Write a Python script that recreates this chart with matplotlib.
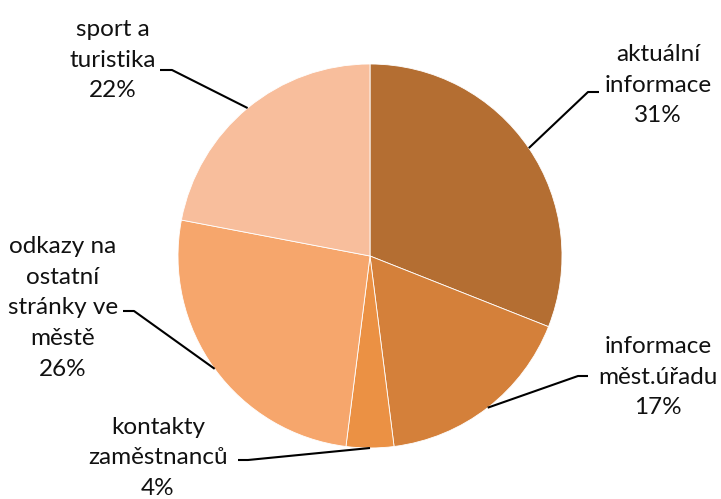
import numpy as np
import matplotlib
matplotlib.use("Agg")
import matplotlib.pyplot as plt

# slices, clockwise from 12 o'clock
labels = ["aktuální\ninformace", "informace\nměst.úřadu", "kontakty\nzaměstnanců",
          "odkazy na\nostatní\nstránky ve\nměstě", "sport a\nturistika"]
shares = [31, 17, 4, 26, 22]
colors = ["#B46E32", "#D4803A", "#EB9144", "#F6A66C", "#F8BE9C"]

# label placement (pixels, y measured from top) and the elbow of each leader line
text_pos = [(658, 85), (658, 377), (158, 458), (63, 308), (113, 60)]
elbows = [((588, 92), (599, 92)),
          ((578, 376), (588, 376)),
          ((248, 460), (238, 460)),
          ((134, 311), (123, 311)),
          ((172, 70), (160, 70))]

W, H = 721, 499
cx, cy, r = 370, 256, 192

fig = plt.figure(figsize=(W / 100, H / 100), dpi=100)
ax = fig.add_axes([0, 0, 1, 1])
ax.set_xlim(0, W)
ax.set_ylim(0, H)
ax.set_aspect("equal")
ax.axis("off")

wedges, _ = ax.pie(shares, colors=colors, startangle=90, counterclock=False,
                   center=(cx, H - cy), radius=r,
                   wedgeprops=dict(edgecolor="white", linewidth=0.6))
ax.set_xlim(0, W)
ax.set_ylim(0, H)

for w, lab, val, (tx, ty), (e1, e2) in zip(wedges, labels, shares, text_pos, elbows):
    ang = np.deg2rad((w.theta1 + w.theta2) / 2)
    px = cx + r * np.cos(ang)
    py = (H - cy) + r * np.sin(ang)
    ax.plot([px, e1[0], e2[0]], [py, H - e1[1], H - e2[1]], color="black", lw=1.5,
            solid_capstyle="butt")
    ax.text(tx, H - ty, f"{lab}\n{val}%", ha="center", va="center", fontsize=17.5,
            family="Lato", linespacing=1.58, color="#111111")

fig.savefig("out.png", dpi=100)
